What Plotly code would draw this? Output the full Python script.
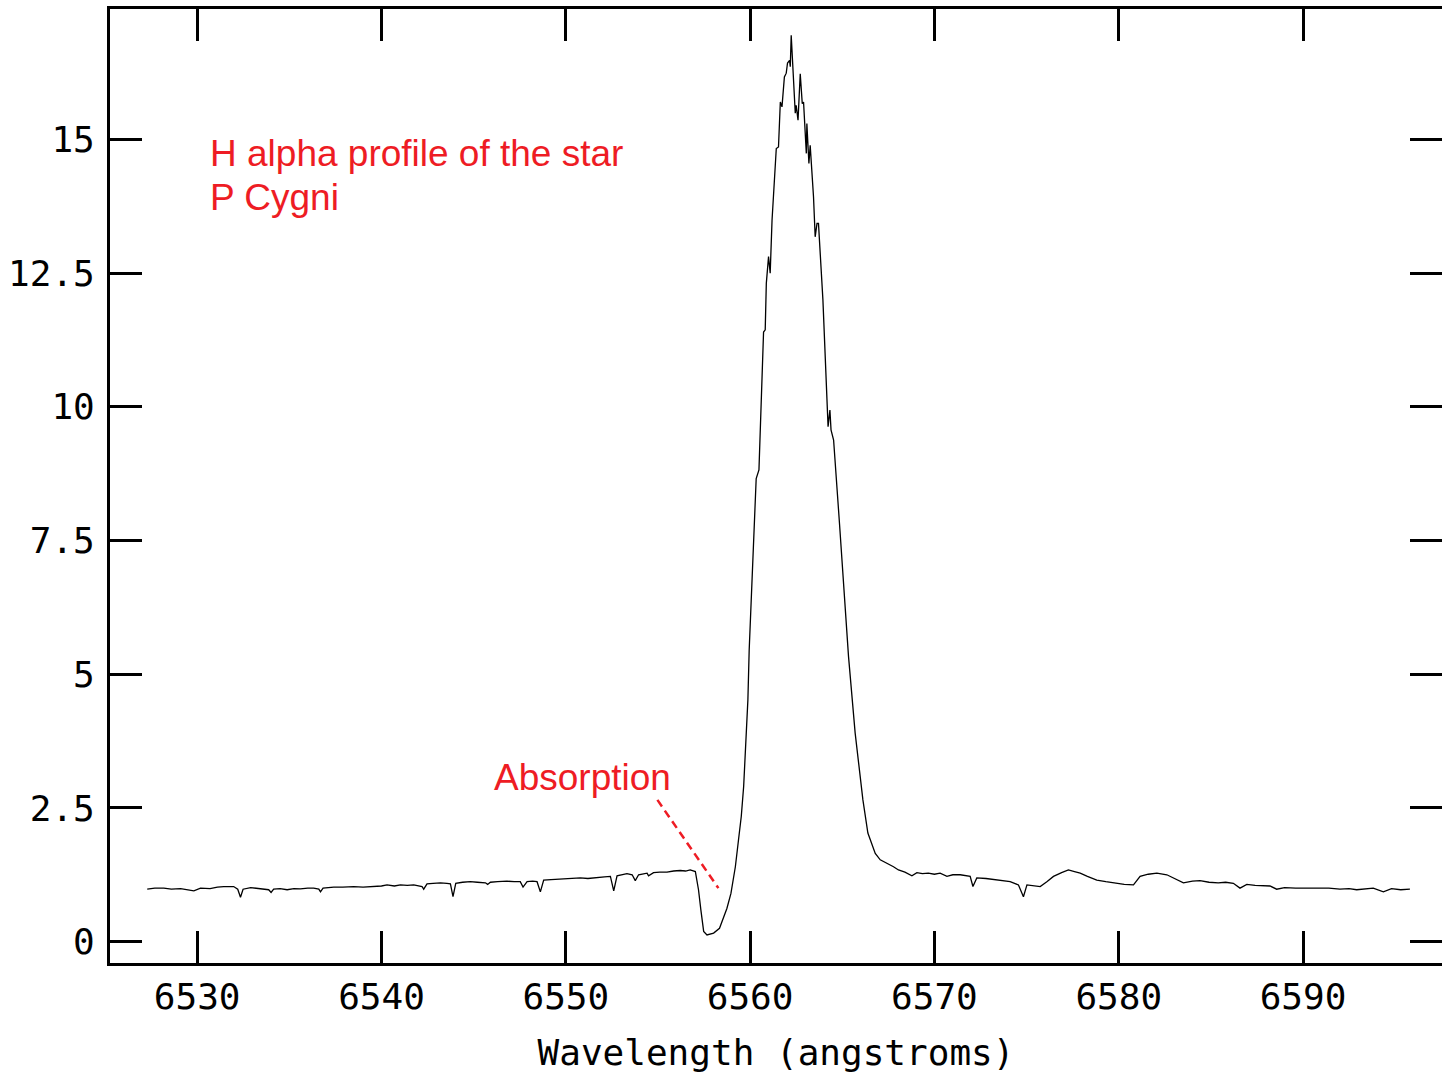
import plotly.graph_objects as go

# Wavelength (angstroms) and relative flux
wavelength = [
    6527.29, 6527.70, 6528.19, 6528.60, 6529.10, 6529.50, 6529.82, 6530.18, 6530.70, 6531.10,
    6531.44, 6531.98, 6532.20, 6532.35, 6532.49, 6532.90, 6533.25, 6533.60, 6533.88, 6534.01,
    6534.15, 6534.50, 6534.88, 6535.25, 6535.60, 6536.00, 6536.32, 6536.60, 6536.69, 6536.83,
    6537.10, 6537.41, 6537.90, 6538.49, 6539.00, 6539.58, 6540.00, 6540.30, 6540.70, 6541.03,
    6541.40, 6541.75, 6542.20, 6542.29, 6542.47, 6542.80, 6543.20, 6543.55, 6543.74, 6543.88,
    6544.03, 6544.40, 6544.82, 6545.20, 6545.64, 6545.76, 6545.91, 6546.30, 6546.81, 6547.20,
    6547.53, 6547.68, 6547.90, 6548.20, 6548.44, 6548.62, 6548.80, 6549.20, 6549.70, 6550.20,
    6550.79, 6551.20, 6551.69, 6552.10, 6552.42, 6552.60, 6552.78, 6553.05, 6553.32, 6553.60,
    6553.77, 6553.95, 6554.20, 6554.41, 6554.49, 6554.76, 6555.10, 6555.49, 6555.85, 6556.21,
    6556.50, 6556.75, 6557.03, 6557.20, 6557.33, 6557.48, 6557.66, 6558.02, 6558.34, 6558.53,
    6558.74, 6558.96, 6559.20, 6559.37, 6559.52, 6559.65, 6559.79, 6559.88, 6559.95, 6560.05,
    6560.19, 6560.33, 6560.48, 6560.60, 6560.73, 6560.82, 6560.88, 6561.00, 6561.09, 6561.19,
    6561.42, 6561.54, 6561.64, 6561.73, 6561.86, 6561.96, 6562.03, 6562.14, 6562.18, 6562.23,
    6562.45, 6562.50, 6562.60, 6562.72, 6562.83, 6562.90, 6563.05, 6563.08, 6563.19, 6563.26,
    6563.44, 6563.53, 6563.63, 6563.71, 6563.95, 6564.23, 6564.33, 6564.39, 6564.53, 6564.85,
    6565.12, 6565.34, 6565.70, 6566.12, 6566.39, 6566.79, 6567.06, 6567.42, 6567.78, 6568.05,
    6568.40, 6568.78, 6569.05, 6569.35, 6569.67, 6570.00, 6570.31, 6570.68, 6571.00, 6571.40,
    6571.94, 6572.09, 6572.30, 6572.80, 6573.39, 6573.75, 6574.11, 6574.56, 6574.83, 6575.02,
    6575.40, 6575.74, 6576.10, 6576.46, 6576.90, 6577.27, 6577.60, 6577.91, 6578.30, 6578.81,
    6579.30, 6579.90, 6580.30, 6580.80, 6581.16, 6581.60, 6582.07, 6582.61, 6583.05, 6583.51,
    6584.00, 6584.41, 6584.90, 6585.40, 6585.80, 6586.22, 6586.58, 6586.95, 6587.40, 6587.80,
    6588.21, 6588.57, 6589.00, 6589.60, 6590.20, 6590.80, 6591.40, 6592.00, 6592.50, 6592.91,
    6593.40, 6593.81, 6594.36, 6594.80, 6595.30, 6595.80,
]
flux = [
    0.98, 1.00, 1.00, 0.98, 0.99, 0.97, 0.95, 1.00, 0.99, 1.02,
    1.03, 1.03, 0.98, 0.83, 0.98, 1.01, 1.00, 0.99, 0.97, 0.92,
    0.98, 0.99, 0.97, 0.99, 0.985, 1.00, 1.00, 0.98, 0.93, 1.00,
    1.01, 1.02, 1.02, 1.03, 1.02, 1.03, 1.04, 1.06, 1.04, 1.06,
    1.05, 1.06, 1.03, 0.98, 1.08, 1.09, 1.10, 1.09, 1.08, 0.84,
    1.09, 1.11, 1.12, 1.11, 1.10, 1.07, 1.11, 1.12, 1.13, 1.12,
    1.12, 1.02, 1.12, 1.13, 1.12, 0.93, 1.15, 1.16, 1.17, 1.18,
    1.19, 1.18, 1.19, 1.21, 1.22, 0.95, 1.23, 1.25, 1.27, 1.25,
    1.14, 1.25, 1.27, 1.28, 1.23, 1.29, 1.30, 1.30, 1.32, 1.33,
    1.32, 1.34, 1.31, 0.97, 0.59, 0.19, 0.125, 0.16, 0.25, 0.41,
    0.62, 0.90, 1.40, 1.90, 2.34, 2.90, 3.77, 4.52, 5.45, 6.39,
    7.32, 8.66, 8.82, 10.13, 11.40, 11.44, 12.31, 12.81, 12.50, 13.49,
    14.83, 14.86, 15.70, 15.61, 16.17, 16.24, 16.43, 16.48, 16.36, 16.95,
    15.49, 15.64, 15.36, 16.23, 15.67, 15.70, 14.74, 15.30, 14.55, 14.89,
    13.93, 13.18, 13.43, 13.43, 12.00, 9.63, 9.94, 9.57, 9.38, 7.82,
    6.39, 5.33, 3.90, 2.65, 2.03, 1.65, 1.53, 1.47, 1.40, 1.34,
    1.30, 1.23, 1.29, 1.27, 1.28, 1.26, 1.28, 1.22, 1.25, 1.25,
    1.22, 1.03, 1.19, 1.18, 1.15, 1.14, 1.12, 1.06, 0.84, 1.06,
    1.05, 1.03, 1.12, 1.22, 1.29, 1.34, 1.31, 1.28, 1.22, 1.15,
    1.12, 1.09, 1.07, 1.06, 1.22, 1.26, 1.28, 1.25, 1.17, 1.10,
    1.13, 1.14, 1.11, 1.10, 1.11, 1.09, 1.00, 1.07, 1.05, 1.05,
    1.04, 0.98, 1.01, 1.00, 1.00, 0.99, 1.00, 0.98, 0.99, 0.97,
    0.99, 1.00, 0.93, 0.99, 0.97, 0.98,
]

x_ticks = [6530, 6540, 6550, 6560, 6570, 6580, 6590]
y_ticks = [0, 2.5, 5, 7.5, 10, 12.5, 15]
y_tick_text = ["0", "2.5", "5", "7.5", "10", "12.5", "15"]

x_title = "Wavelength (angstroms)"
note_lines = ["H alpha profile of the star", "P Cygni"]
note_x = 6530.6
note_y = [14.74, 13.92]
absorption_label = "Absorption"
absorption_pos = (6550.92, 3.06)
absorption_pointer_x = [6554.97, 6558.28]
absorption_pointer_y = [2.65, 1.00]

x_range = [6525.27, 6597.54]
y_range = [-0.40, 17.44]

RED = "#ee1c24"
TICK_FONT = dict(family="DejaVu Sans Mono", size=36, color="black")
NOTE_FONT = dict(family="Liberation Sans", size=37, color=RED)

fig = go.Figure()
fig.add_trace(go.Scatter(
    x=wavelength, y=flux, mode="lines",
    line=dict(color="black", width=1.3),
    showlegend=False, hoverinfo="skip",
))
fig.add_trace(go.Scatter(
    x=absorption_pointer_x, y=absorption_pointer_y, mode="lines",
    line=dict(color=RED, width=2.5, dash="8px,5px"),
    showlegend=False, hoverinfo="skip",
))
# invisible trace to activate right-side ticks
fig.add_trace(go.Scatter(
    x=[x_range[0]], y=[y_range[0]], yaxis="y2", mode="markers",
    marker=dict(opacity=0), showlegend=False, hoverinfo="skip",
))

for txt, yy in zip(note_lines, note_y):
    fig.add_annotation(
        x=note_x, y=yy, xref="x", yref="y", text=txt,
        showarrow=False, xanchor="left", yanchor="middle", align="left",
        font=NOTE_FONT,
    )
fig.add_annotation(
    x=absorption_pos[0], y=absorption_pos[1], xref="x", yref="y", text=absorption_label,
    showarrow=False, xanchor="center", yanchor="middle",
    font=NOTE_FONT,
)

fig.update_layout(
    width=1442, height=1075,
    margin=dict(l=110, r=0, t=9, b=112),
    paper_bgcolor="white", plot_bgcolor="white",
    xaxis=dict(
        range=x_range, tickvals=x_ticks, ticks="inside", ticklen=32, tickwidth=3,
        tickcolor="black", showline=True, linewidth=3, linecolor="black",
        mirror="ticks", showgrid=False, zeroline=False, tickfont=TICK_FONT,
        title=dict(text=x_title, font=TICK_FONT, standoff=24),
    ),
    yaxis=dict(
        range=y_range, tickvals=y_ticks, ticktext=y_tick_text, ticks="inside",
        ticklen=32, tickwidth=3, tickcolor="black", showline=True, linewidth=3,
        linecolor="black", showgrid=False, zeroline=False, tickfont=TICK_FONT,
        ticklabelstandoff=5,
    ),
    yaxis2=dict(
        range=y_range, tickvals=y_ticks, overlaying="y", side="right",
        ticks="inside", ticklen=32, tickwidth=3, tickcolor="black",
        showline=False, showticklabels=False, showgrid=False, zeroline=False,
    ),
)

fig.write_html("out.html")
